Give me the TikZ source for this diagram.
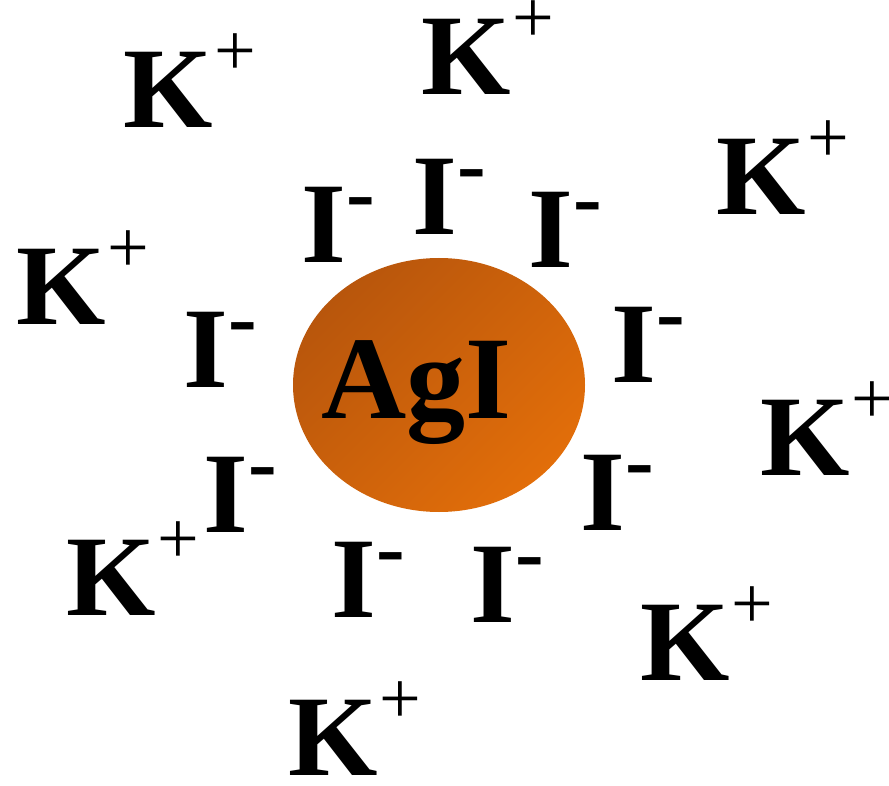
\documentclass[tikz,border=0pt]{standalone}
\usepackage{fontspec}
\setmainfont{Liberation Serif}
\usetikzlibrary{shapes.geometric}
\definecolor{agidark}{RGB}{184,86,12}
\definecolor{agilight}{RGB}{226,110,10}
\newcommand{\ionK}{K\kern2pt\raisebox{52pt}{\fontsize{74}{74}\selectfont\mdseries +}}
\newcommand{\ionI}{I\kern1pt\raisebox{41pt}{\fontsize{86}{86}\selectfont -}}

\begin{document}
\begin{tikzpicture}[x=1pt,y=-1pt,
  ion/.style={anchor=base west, inner sep=0pt, font=\fontsize{115}{115}\selectfont\bfseries}]
\useasboundingbox (0,0) rectangle (889,786);
% the AgI particle
\node[ellipse, minimum width=292pt, minimum height=254pt, inner sep=0pt,
  top color=agidark, bottom color=agilight, shading angle=45] (agi) at (439,385) {};
\node[ion, font=\fontsize{118}{118}\selectfont\bfseries] (agilabel) at (321,418) {AgI};
% inner layer
\node[ion] (I1) at (301,263) {\ionI};
\node[ion] (I2) at (412,235) {\ionI};
\node[ion] (I3) at (528,268) {\ionI};
\node[ion] (I4) at (183,388) {\ionI};
\node[ion] (I5) at (611,382) {\ionI};
\node[ion] (I6) at (203,532) {\ionI};
\node[ion] (I7) at (580,530) {\ionI};
\node[ion] (I8) at (331,617) {\ionI};
\node[ion] (I9) at (470,622) {\ionI};
% outer layer
\node[ion] (K1) at (123,128) {\ionK};
\node[ion] (K2) at (421,95) {\ionK};
\node[ion] (K3) at (716,215) {\ionK};
\node[ion] (K4) at (16,325) {\ionK};
\node[ion] (K5) at (760,475) {\ionK};
\node[ion] (K6) at (66,615) {\ionK};
\node[ion] (K7) at (640,680) {\ionK};
\node[ion] (K8) at (288,775) {\ionK};
\end{tikzpicture}
\end{document}
